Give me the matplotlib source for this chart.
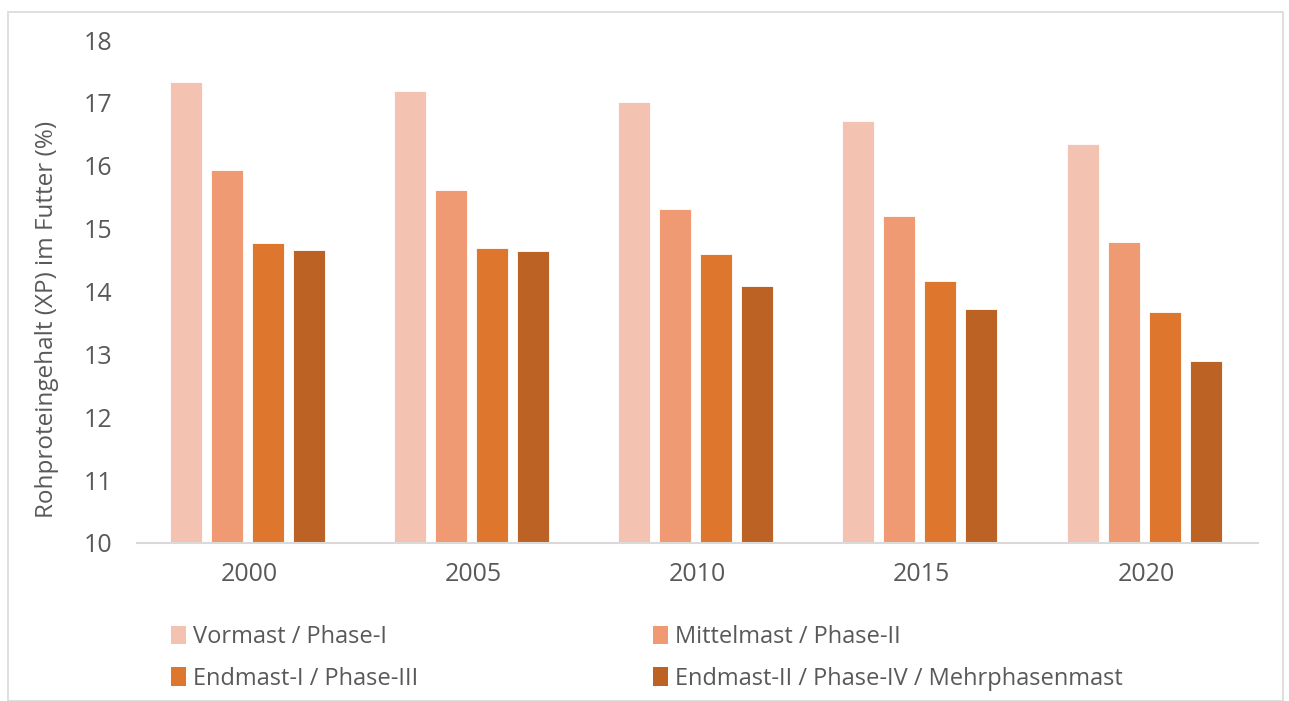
import matplotlib
matplotlib.use("Agg")
import matplotlib.pyplot as plt
from matplotlib.patches import Rectangle, Patch
import numpy as np

years = ["2000", "2005", "2010", "2015", "2020"]
series_names = ["Vormast / Phase-I", "Mittelmast / Phase-II",
                "Endmast-I / Phase-III", "Endmast-II / Phase-IV / Mehrphasenmast"]
vormast = [17.33, 17.19, 17.01, 16.71, 16.34]
mittelmast = [15.93, 15.61, 15.32, 15.20, 14.78]
endmast1 = [14.77, 14.69, 14.59, 14.16, 13.68]
endmast2 = [14.66, 14.65, 14.09, 13.72, 12.89]
colors = ["#F4C2B1", "#EF9A72", "#DE762E", "#BB6224"]

plt.rcParams['font.family'] = ['Open Sans', 'DejaVu Sans']
txt = "#595959"

W, H = 1289, 701
fig = plt.figure(figsize=(W/100, H/100), dpi=100)
ax = fig.add_axes([137/W, 1 - 543/H, (1258-137)/W, (543-40)/H])

x = np.arange(len(years))
width = 0.143
step = 0.183
data = [vormast, mittelmast, endmast1, endmast2]
for i, (vals, c) in enumerate(zip(data, colors)):
    ax.bar(x + (i - 1.5) * step - 0.008, np.array(vals) - 10, width, bottom=10,
           color=c, edgecolor="white", linewidth=0.6)

ax.set_xlim(-0.5, len(years) - 0.5)
ax.set_ylim(10, 18)
ax.set_yticks(range(10, 19))
ax.set_xticks(x)
ax.set_xticklabels(years)
ax.tick_params(axis='both', length=0, labelsize=18, colors=txt)
ax.tick_params(axis='y', pad=18)
ax.tick_params(axis='x', pad=14)
for s in ["top", "right", "left"]:
    ax.spines[s].set_visible(False)
ax.spines["bottom"].set_color("#D9D9D9")
ax.spines["bottom"].set_linewidth(1.5)
ax.set_ylabel("Rohproteingehalt (XP) im Futter (%)", fontsize=17.5, color=txt)
ax.yaxis.set_label_coords((59 - 137) / (1258 - 137), (543 - 319) / (543 - 40))

handles = [Patch(facecolor=c) for c in colors]
order = [0, 2, 1, 3]
leg = fig.legend([handles[i] for i in order], [series_names[i] for i in order],
                 ncol=2, loc="upper left", bbox_to_anchor=(150/W, 1 - 604/H),
                 frameon=False, fontsize=17, handlelength=0.62, handleheight=0.85,
                 handletextpad=0.3, columnspacing=9.95, labelspacing=0.75,
                 labelcolor=txt)

fig.patches.append(Rectangle((8/W, 0), (1283-8)/W, 1 - 12/H, transform=fig.transFigure,
                             fill=False, edgecolor="#D9D9D9", linewidth=1.2))

fig.savefig("out.png", dpi=100)
